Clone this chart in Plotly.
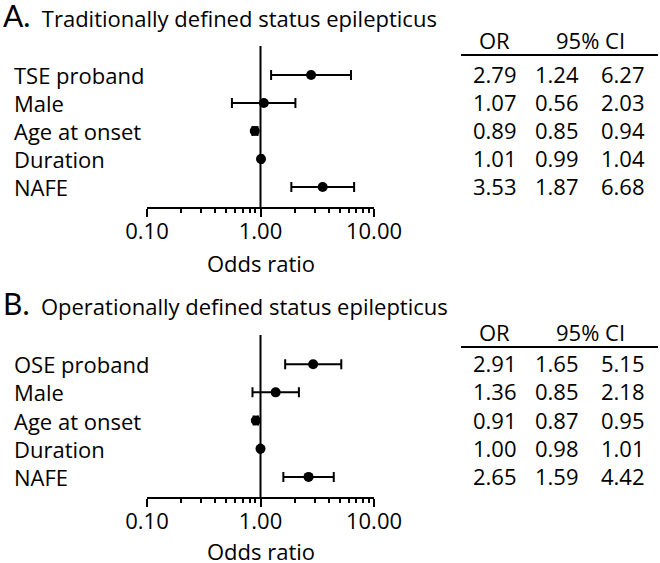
import plotly.graph_objects as go

W, H = 660, 563

# ---- data ----
labels_a = ["TSE proband", "Male", "Age at onset", "Duration", "NAFE"]
or_a = [2.79, 1.07, 0.89, 1.01, 3.53]
lo_a = [1.24, 0.56, 0.85, 0.99, 1.87]
hi_a = [6.27, 2.03, 0.94, 1.04, 6.68]

labels_b = ["OSE proband", "Male", "Age at onset", "Duration", "NAFE"]
or_b = [2.91, 1.36, 0.91, 1.00, 2.65]
lo_b = [1.65, 0.85, 0.87, 0.98, 1.59]
hi_b = [5.15, 2.18, 0.95, 1.01, 4.42]

title_a = "Traditionally defined status epilepticus"
title_b = "Operationally defined status epilepticus"
axis_title = "Odds ratio"
tick_vals = [0.1, 1, 10]
tick_text = ["0.10", "1.00", "10.00"]
minor_vals = [0.2, 0.3, 0.4, 0.5, 0.6, 0.7, 0.8, 0.9, 2, 3, 4, 5, 6, 7, 8, 9]

FONT = "Open Sans"
FS = 22

def px_x(p):
    return p / W

def px_y(p):
    return 1 - p / H

fig = go.Figure()
ypos = [4, 3, 2, 1, 0]

panels = [
    dict(labels=labels_a, orv=or_a, lo=lo_a, hi=hi_a, xa="x", ya="y",
         dom=(207, 46), title=title_a, letter="A.", title_y=15, head_y=40, line_y=55, xt_y=263),
    dict(labels=labels_b, orv=or_b, lo=lo_b, hi=hi_b, xa="x2", ya="y2",
         dom=(497, 335), title=title_b, letter="B.", title_y=303, head_y=332, line_y=347, xt_y=551),
]

annotations = []
shapes = []
for i, p in enumerate(panels):
    fig.add_trace(go.Scatter(
        x=p["orv"], y=ypos, mode="markers",
        marker=dict(color="black", size=10),
        error_x=dict(type="data", symmetric=False,
                     array=[h - o for h, o in zip(p["hi"], p["orv"])],
                     arrayminus=[o - l for o, l in zip(p["orv"], p["lo"])],
                     color="black", thickness=2, width=5),
        xaxis=p["xa"], yaxis=p["ya"], showlegend=False, cliponaxis=False,
        hoverinfo="skip",
    ))
    axname = "xaxis" if i == 0 else "xaxis2"
    yname = "yaxis" if i == 0 else "yaxis2"
    fig.update_layout(**{
        axname: dict(type="log", range=[-1, 1], domain=[px_x(147), px_x(374)],
                     anchor=p["ya"], showline=True, linewidth=2, linecolor="black",
                     automargin=False,
                     tickmode="array", tickvals=tick_vals, ticktext=tick_text,
                     ticks="outside", ticklen=8, tickwidth=2, tickcolor="black",
                     ticklabelstandoff=-4,
                     minor=dict(tickmode="array", tickvals=minor_vals, ticks="outside",
                                ticklen=4, tickwidth=1.5, tickcolor="black", showgrid=False),
                     showgrid=False, zeroline=False,
                     tickfont=dict(family=FONT, size=FS, color="black")),
        yname: dict(range=[-0.714, 5.036], domain=[px_y(p["dom"][0]), px_y(p["dom"][1])],
                    anchor=p["xa"], showline=False, showticklabels=False, ticks="",
                    automargin=False, showgrid=False, zeroline=False),
    })
    # axis title
    annotations.append(dict(text=axis_title, xref=p["xa"] + " domain", yref="paper",
                            x=0.5, y=px_y(p["xt_y"]), xanchor="center", yanchor="middle",
                            showarrow=False, font=dict(family=FONT, size=FS, color="black")))
    # vertical reference line at OR = 1
    shapes.append(dict(type="line", xref=p["xa"], yref=p["ya"] + " domain",
                       x0=1, x1=1, y0=0, y1=1, line=dict(color="black", width=2)))
    # category labels
    for lab, yv in zip(p["labels"], ypos):
        annotations.append(dict(text=lab, xref="paper", yref=p["ya"], x=px_x(12), y=yv,
                                xanchor="left", yanchor="middle", showarrow=False,
                                font=dict(family=FONT, size=FS, color="black")))
    # table values
    for col, xc in zip([p["orv"], p["lo"], p["hi"]], [495, 557, 623]):
        for v, yv in zip(col, ypos):
            annotations.append(dict(text=f"{v:.2f}", xref="paper", yref=p["ya"], x=px_x(xc), y=yv,
                                    xanchor="center", yanchor="middle", showarrow=False, yshift=1,
                                    font=dict(family=FONT, size=FS, color="black")))
    # table header
    annotations.append(dict(text="OR", xref="paper", yref="paper", x=px_x(494), y=px_y(p["head_y"]),
                            xanchor="center", yanchor="middle", showarrow=False,
                            font=dict(family=FONT, size=FS, color="black")))
    annotations.append(dict(text="95% CI", xref="paper", yref="paper", x=px_x(590), y=px_y(p["head_y"]),
                            xanchor="center", yanchor="middle", showarrow=False,
                            font=dict(family=FONT, size=FS, color="black")))
    shapes.append(dict(type="line", xref="paper", yref="paper", x0=px_x(461), x1=px_x(658),
                       y0=px_y(p["line_y"]), y1=px_y(p["line_y"]), line=dict(color="black", width=2)))
    # panel title
    annotations.append(dict(
        text=f"<span style='font-size:30px;font-family:Lato'>{p['letter']}</span>\u00a0 {p['title']}",
        xref="paper", yref="paper", x=px_x(1), y=px_y(p["title_y"]), xanchor="left", yanchor="middle",
        showarrow=False, font=dict(family=FONT, size=22, color="black")))

fig.update_layout(width=W, height=H, margin=dict(l=0, r=0, t=0, b=0),
                  plot_bgcolor="white", paper_bgcolor="white", hovermode=False,
                  annotations=annotations, shapes=shapes)

fig.write_html("out.html", config={"displayModeBar": False},
               post_script="document.body.style.margin='0';document.body.style.overflow='hidden';")
